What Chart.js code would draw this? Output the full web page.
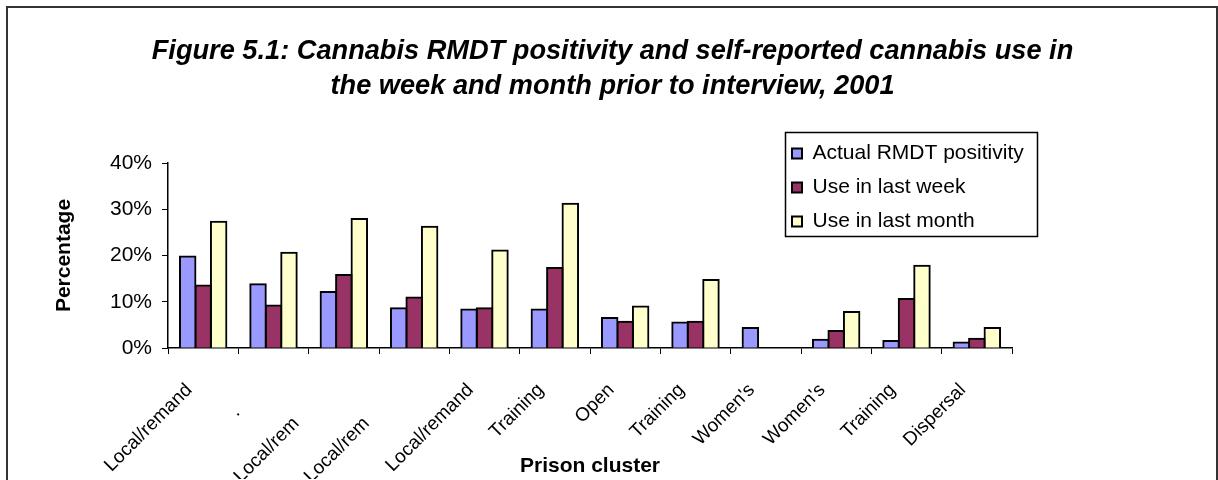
<!DOCTYPE html>
<html>
<head>
<meta charset="utf-8">
<title>Cannabis RMDT positivity and self-reported cannabis use, 2001</title>
<script src="https://cdn.jsdelivr.net/npm/chart.js@4/dist/chart.umd.min.js"></script>
<style>
  html, body { margin: 0; padding: 0; background: #ffffff; }
  canvas { display: block; }
</style>
</head>
<body>
<canvas id="chart" width="1218" height="480"></canvas>
<script>
// Prison clusters (labels as printed under the axis; trailing spaces keep
// the shortened labels set back along the slanted baseline)
const categories = [
  'Local/remand',
  '.      ',
  'Local/rem         ',
  'Local/rem         ',
  'Local/remand',
  'Training',
  'Open',
  'Training',
  "Women's",
  "Women's",
  'Training',
  'Dispersal'
];

// Percentages per cluster
const rmdtPositivity = [19.8, 13.8, 12.1, 8.6, 8.3, 8.3, 6.5, 5.5, 4.3, 1.8, 1.5, 1.2];
const useLastWeek    = [13.5, 9.2, 15.8, 10.9, 8.6, 17.3, 5.7, 5.7, null, 3.7, 10.6, 2.0];
const useLastMonth   = [27.3, 20.6, 27.9, 26.2, 21.1, 31.2, 9.0, 14.7, null, 7.8, 17.8, 4.3];

const seriesNames = ['Actual RMDT positivity', 'Use in last week', 'Use in last month'];
const yTicks = [0, 10, 20, 30, 40];

const titleLines = [
  'Figure 5.1: Cannabis RMDT positivity and self-reported cannabis use in',
  'the week and month prior to interview, 2001'
];

const FONT = "'Liberation Sans', Arial, Helvetica, sans-serif";

// Places the legend list at a fixed spot, frames it, and frames the figure.
const framePlugin = {
  id: 'framePlugin',
  beforeDraw(chart, args, opts) {
    const lg = chart.legend;
    if (lg && lg.legendHitBoxes && lg.legendHitBoxes.length) {
      const first = lg.legendHitBoxes[0];
      const dx = opts.legendX - first.left;
      const dy = opts.legendY - first.top;
      if (dx || dy) {
        lg.left += dx; lg.right += dx;
        lg.top += dy; lg.bottom += dy;
        lg.legendHitBoxes.forEach(h => { h.left += dx; h.top += dy; });
      }
    }
    const ctx = chart.ctx;
    ctx.save();
    ctx.strokeStyle = '#333333';
    ctx.lineWidth = 2;
    ctx.strokeRect(7, 7, 1210, 520);
    ctx.restore();
  },
  afterDraw(chart) {
    const lg = chart.legend;
    if (!lg || !lg.legendHitBoxes || !lg.legendHitBoxes.length) return;
    const hb = lg.legendHitBoxes;
    const left = Math.min(...hb.map(h => h.left)) - 7;
    const right = Math.max(...hb.map(h => h.left + h.width)) + 13;
    const top = hb[0].top - 11;
    const last = hb[hb.length - 1];
    const bottom = last.top + last.height + 4;
    const ctx = chart.ctx;
    ctx.save();
    ctx.strokeStyle = '#000000';
    ctx.lineWidth = 1.5;
    ctx.strokeRect(Math.round(left) + 0.5, Math.round(top) + 0.5, Math.round(right - left), Math.round(bottom - top));
    ctx.restore();
  }
};

const barStyle = {
  borderColor: '#000000',
  borderWidth: 2,
  inflateAmount: 1,
  barPercentage: 1.0,
  categoryPercentage: 0.66
};

new Chart(document.getElementById('chart'), {
  type: 'bar',
  data: {
    labels: categories,
    datasets: [
      Object.assign({ label: seriesNames[0], data: rmdtPositivity, backgroundColor: '#9999FF' }, barStyle),
      Object.assign({ label: seriesNames[1], data: useLastWeek, backgroundColor: '#993366' }, barStyle),
      Object.assign({ label: seriesNames[2], data: useLastMonth, backgroundColor: '#FFFFCC' }, barStyle)
    ]
  },
  options: {
    responsive: false,
    animation: false,
    devicePixelRatio: 1,
    layout: { padding: { left: 48, right: 41, top: 0, bottom: 1 } },
    plugins: {
      title: {
        display: true,
        text: titleLines,
        color: '#000000',
        font: { family: FONT, size: 27.2, weight: 'bold', style: 'italic', lineHeight: 35 / 27.2 },
        padding: { top: 34.5, bottom: 58.5 }
      },
      legend: {
        display: true,
        position: 'chartArea',
        align: 'start',
        labels: {
          color: '#000000',
          font: { family: FONT, size: 21 },
          boxWidth: 10,
          boxHeight: 10,
          padding: 13
        }
      },
      tooltip: { enabled: false },
      framePlugin: { legendX: 792, legendY: 143 }
    },
    scales: {
      x: {
        grid: { display: true, offset: true, drawOnChartArea: false, drawTicks: true, tickLength: 6, color: '#000000', lineWidth: 1 },
        border: { display: true, color: '#000000', width: 1.5 },
        ticks: {
          color: '#000000',
          font: { family: FONT, size: 19 },
          minRotation: 45,
          maxRotation: 45,
          autoSkip: false,
          padding: 25,
          labelOffset: -14
        },
        title: {
          display: true,
          text: 'Prison cluster',
          color: '#000000',
          font: { family: FONT, size: 21, weight: 'bold' },
          padding: { top: 0, bottom: 0 }
        },
        afterFit(scale) { scale.height = 131; }
      },
      y: {
        min: 0,
        max: 40,
        afterBuildTicks(scale) { scale.ticks = yTicks.map(v => ({ value: v })); },
        grid: { display: true, drawOnChartArea: false, drawTicks: true, tickLength: 6, color: '#000000', lineWidth: 1 },
        border: { display: true, color: '#000000', width: 1.5 },
        ticks: {
          color: '#000000',
          font: { family: FONT, size: 21 },
          padding: 10,
          callback: v => v + '%'
        },
        title: {
          display: true,
          text: 'Percentage',
          color: '#000000',
          font: { family: FONT, size: 21, weight: 'bold' },
          padding: { top: 4, bottom: 0 }
        },
        afterFit(scale) { scale.width = 120; }
      },
      // empty right-hand strip that keeps the plot clear of the legend column
      side: {
        type: 'linear',
        position: 'right',
        display: true,
        grid: { display: false, drawTicks: false },
        border: { display: false },
        ticks: { display: false },
        afterFit(scale) { scale.width = 165; }
      }
    }
  },
  plugins: [framePlugin]
});
</script>
</body>
</html>
